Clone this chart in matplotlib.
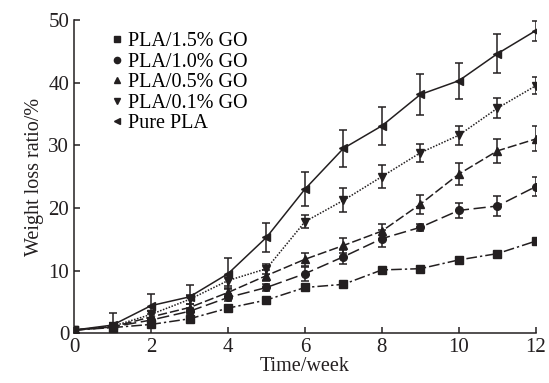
import matplotlib
matplotlib.use('Agg')
import matplotlib.pyplot as plt
from matplotlib.lines import Line2D

plt.rcParams['font.family'] = 'Liberation Serif'
plt.rcParams['mathtext.fontset'] = 'stix'

weeks = list(range(13))

labels = ['PLA/1.5% GO', 'PLA/1.0% GO', 'PLA/0.5% GO', 'PLA/0.1% GO', 'Pure PLA']

go15 = [0.5, 0.9, 1.4, 2.3, 4.0, 5.3, 7.3, 7.8, 10.1, 10.3, 11.7, 12.7, 14.7]
go10 = [0.5, 1.0, 2.1, 3.5, 5.7, 7.3, 9.5, 12.2, 15.1, 16.9, 19.6, 20.3, 23.4]
go05 = [0.5, 1.0, 2.6, 4.1, 6.5, 9.2, 11.8, 14.0, 16.3, 20.6, 25.4, 29.1, 31.0]
go01 = [0.5, 1.1, 3.0, 5.4, 8.4, 10.3, 17.8, 21.2, 25.0, 28.8, 31.6, 35.9, 39.5]
pure = [0.5, 1.3, 4.4, 5.8, 9.5, 15.3, 23.0, 29.5, 33.1, 38.1, 40.3, 44.6, 48.3]

err15 = [0.1, 0.2, 0.2, 0.3, 0.3, 0.3, 0.3, 0.3, 0.3, 0.3, 0.3, 0.3, 0.3]
err10 = [0.2, 0.3, 0.4, 0.5, 0.6, 0.6, 1.1, 1.1, 1.3, 0.6, 1.2, 1.6, 1.5]
err05 = [0.2, 0.4, 0.5, 0.6, 0.7, 0.9, 1.0, 1.2, 1.2, 1.5, 1.8, 1.9, 2.0]
err01 = [0.2, 0.5, 0.6, 0.7, 0.8, 0.8, 1.0, 1.9, 1.8, 1.4, 1.5, 1.6, 1.4]
errpure = [0.3, 1.9, 1.9, 1.9, 2.5, 2.3, 2.7, 3.0, 3.0, 3.3, 2.9, 3.1, 1.6]

ink = '#231f20'
series = [
    (go15, err15, 's', (0, (7, 2, 1.5, 2))),
    (go10, err10, 'o', (0, (8, 3))),
    (go05, err05, '^', (0, (6, 2))),
    (go01, err01, 'v', (0, (1, 1))),
    (pure, errpure, '<', '-'),
]

fig = plt.figure(figsize=(5.49, 3.83), dpi=100)
ax = fig.add_axes([0.135, 0.13, 0.841, 0.818])

for ys, es, m, ls in series:
    ax.errorbar(weeks, ys, yerr=es, color=ink, marker=m, markersize=5.5,
                linestyle=ls, linewidth=1.1, elinewidth=1.1, capsize=3,
                capthick=1.1)

ax.set_xlim(0, 12)
ax.set_ylim(0, 50)
ax.set_xticks([0, 2, 4, 6, 8, 10, 12])
ax.set_yticks([0, 10, 20, 30, 40, 50])
ax.spines['top'].set_visible(False)
ax.spines['right'].set_visible(False)
for s in ['left', 'bottom']:
    ax.spines[s].set_linewidth(1.1)
    ax.spines[s].set_color(ink)
ax.tick_params(direction='in', length=4, width=1.1, labelsize=15, colors=ink)
ax.set_xlabel('Time/week', fontsize=14.5, color=ink, labelpad=0)
ax.set_ylabel('Weight loss ratio/%', fontsize=14.5, color=ink, labelpad=3)

handles = [Line2D([], [], color=ink, marker=m, linestyle='none', markersize=4.5)
           for _, _, m, _ in series]
ax.legend(handles, labels, loc='upper left', bbox_to_anchor=(0.045, 1.013),
          frameon=False, fontsize=14.5, handlelength=0.6, handletextpad=0.25,
          labelspacing=0.07, borderpad=0.3)

fig.savefig('out.png', dpi=100)
